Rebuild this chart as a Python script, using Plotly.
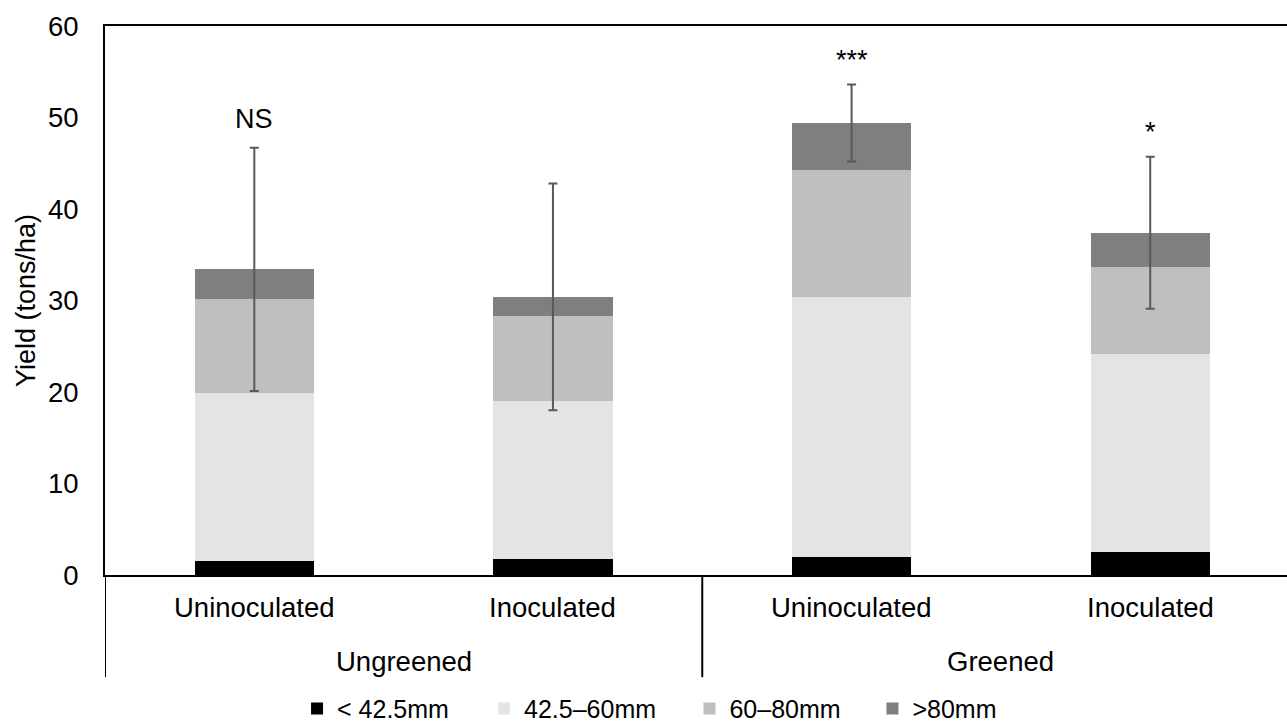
import plotly.graph_objects as go

# ---- data ----
treatments = ["Uninoculated", "Inoculated", "Uninoculated", "Inoculated"]
groups = ["Ungreened", "Greened"]
size_classes = ["< 42.5mm", "42.5–60mm", "60–80mm", ">80mm"]
lt_42_5 = [1.5, 1.7, 2.0, 2.5]
s42_5_60 = [18.4, 17.3, 28.4, 21.7]
s60_80 = [10.3, 9.3, 13.9, 9.5]
gt_80 = [3.2, 2.1, 5.1, 3.7]
total_error = [13.3, 12.4, 4.2, 8.3]
significance = ["NS", "", "***", "*"]

series = [lt_42_5, s42_5_60, s60_80, gt_80]
colors = ["#000000", "#e4e4e4", "#bfbfbf", "#7f7f7f"]
FONT = "Liberation Sans, Arial, sans-serif"
legend_ids = ["legend", "legend2", "legend3", "legend4"]
legend_x = [0.2308, 0.3761, 0.5357, 0.6779]

xpos = list(range(len(treatments)))
totals = [sum(v) for v in zip(*series)]

fig = go.Figure()
for name, vals, col, lid in zip(size_classes, series, colors, legend_ids):
    fig.add_trace(go.Bar(x=xpos, y=vals, name=name, width=0.4, legend=lid,
                         marker=dict(color=col, line=dict(width=0))))

fig.add_trace(go.Scatter(
    x=xpos, y=totals, mode="markers", showlegend=False,
    marker=dict(opacity=0, size=1),
    error_y=dict(type="data", array=total_error, visible=True,
                 color="#595959", thickness=2, width=4.5)))

annotations = []
for i, lab in enumerate(significance):
    if lab:
        annotations.append(dict(x=xpos[i], y=totals[i] + total_error[i],
                                xref="x", yref="y", text=lab, showarrow=False,
                                yanchor="bottom", yshift=12 if lab == "NS" else 8,
                                font=dict(size=27, color="#000000", family=FONT)))
for i, t in enumerate(treatments):
    annotations.append(dict(x=xpos[i], y=-0.06, xref="x", yref="paper", text=t,
                            showarrow=False, yanchor="middle",
                            font=dict(size=27.5, color="#000000", family=FONT)))
for g, gi in enumerate(groups):
    annotations.append(dict(x=2 * g + 0.5, y=-0.157, xref="x", yref="paper", text=gi,
                            showarrow=False, yanchor="middle",
                            font=dict(size=27.5, color="#000000", family=FONT)))

shapes = []
for xv in [-0.5, 1.5]:
    shapes.append(dict(type="line", xref="x", yref="paper", x0=xv, x1=xv,
                       y0=0, y1=-0.186, line=dict(color="#000000", width=2)))

layout_legends = {}
for lid, lx in zip(legend_ids, legend_x):
    layout_legends[lid] = dict(orientation="h", x=lx, xanchor="left",
                               xref="container", yref="container",
                               y=0.021, yanchor="middle",
                               bgcolor="rgba(0,0,0,0)",
                               font=dict(size=25, color="#000000", family=FONT))

fig.update_layout(
    width=1287, height=724,
    margin=dict(l=105, r=0, t=26, b=149),
    paper_bgcolor="white", plot_bgcolor="white",
    barmode="stack",
    font=dict(family=FONT, size=27, color="#000000"),
    xaxis=dict(range=[-0.5, 3.458], showticklabels=False, showgrid=False,
               zeroline=False, showline=True, mirror=True, automargin=False,
               linecolor="#000000", linewidth=2, ticks=""),
    yaxis=dict(range=[0, 60], tickvals=[0, 10, 20, 30, 40, 50, 60],
               showgrid=False, zeroline=False, showline=True, automargin=False,
               linecolor="#000000", linewidth=2, ticks="",
               ticklabelstandoff=19,
               tickfont=dict(size=27.5, color="#000000"),
               title=dict(text="Yield (tons/ha)", standoff=4,
                          font=dict(size=27, color="#000000"))),
    annotations=annotations, shapes=shapes,
    **layout_legends,
)

fig.write_html("out.html", config={"displayModeBar": False},
               post_script="document.body.style.margin='0';document.body.style.overflow='hidden';")
